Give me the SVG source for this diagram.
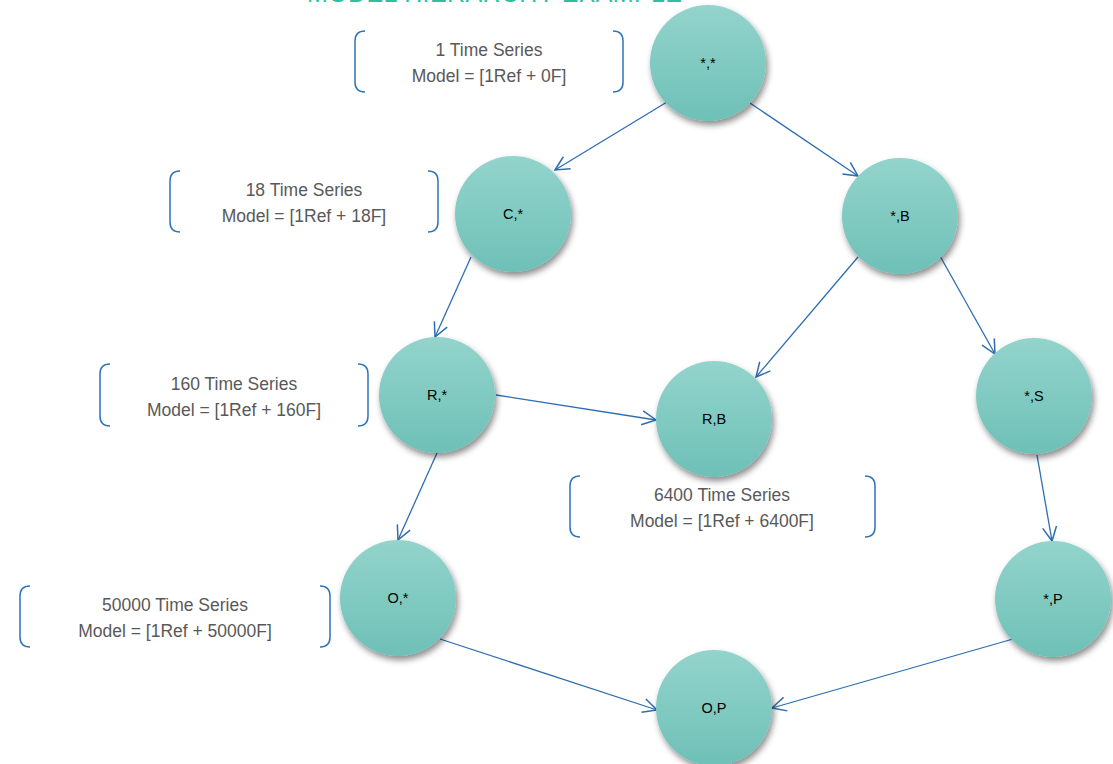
<svg xmlns="http://www.w3.org/2000/svg" width="1113" height="764" viewBox="0 0 1113 764">
<style>
.node circle{fill:url(#g);filter:url(#sh)}
.node text{font-family:"Liberation Sans",Arial,sans-serif;font-size:14.5px;fill:#000;text-anchor:middle}
.note text{font-family:"Liberation Sans",Arial,sans-serif;font-size:17.5px;fill:#595959;text-anchor:middle}
.note path{fill:none;stroke:#2e75b6;stroke-width:1.5}
.edges line{stroke:#2e6db0;stroke-width:1.3;marker-end:url(#arr)}
.title{font-family:"Liberation Sans",Arial,sans-serif;font-size:25px;fill:#2cc0a0}
</style>
<defs>
<linearGradient id="g" x1="0" y1="0" x2="0" y2="1">
<stop offset="0" stop-color="#93d4cc"/>
<stop offset="1" stop-color="#6ec0b7"/>
</linearGradient>
<filter id="sh" x="-30%" y="-30%" width="160%" height="170%">
<feDropShadow dx="2" dy="4" stdDeviation="3" flood-color="#000" flood-opacity="0.45"/>
</filter>
<marker id="arr" viewBox="0 0 20 20" refX="19" refY="10" markerWidth="20" markerHeight="20" markerUnits="userSpaceOnUse" orient="auto">
<path d="M5,3 L19,10 L5,17" fill="none" stroke="#2e6db0" stroke-width="1.5"/>
</marker>
</defs>
<rect width="1113" height="764" fill="#fff"/>
<text class="title" x="307" y="1.5" textLength="375">MODEL HIERARCHY EXAMPLE</text>

<g id="connectors" class="edges">
<line x1="667" y1="102" x2="555" y2="170"/>
<line x1="750" y1="103" x2="858" y2="176"/>
<line x1="471" y1="257" x2="435" y2="337"/>
<line x1="858" y1="257" x2="756" y2="377"/>
<line x1="940" y1="256" x2="995" y2="354"/>
<line x1="496" y1="395" x2="656" y2="420"/>
<line x1="437" y1="453" x2="398" y2="540"/>
<line x1="1037" y1="455" x2="1052" y2="541"/>
<line x1="440" y1="639" x2="657" y2="710"/>
<line x1="1013" y1="639" x2="772" y2="708"/>
</g>

<g id="node-star-star" class="node"><circle cx="708" cy="63" r="58"/><text x="708" y="68">*,*</text></g>
<g id="node-C-star" class="node"><circle cx="513" cy="214" r="58"/><text x="513" y="219">C,*</text></g>
<g id="node-star-B" class="node"><circle cx="900" cy="216" r="58"/><text x="900" y="221">*,B</text></g>
<g id="node-R-star" class="node"><circle cx="437" cy="395" r="58"/><text x="437" y="400">R,*</text></g>
<g id="node-R-B" class="node"><circle cx="714" cy="419" r="58"/><text x="714" y="424">R,B</text></g>
<g id="node-star-S" class="node"><circle cx="1034" cy="396" r="58"/><text x="1034" y="401">*,S</text></g>
<g id="node-O-star" class="node"><circle cx="398" cy="598" r="58"/><text x="398" y="603">O,*</text></g>
<g id="node-star-P" class="node"><circle cx="1053" cy="599" r="58"/><text x="1053" y="604">*,P</text></g>
<g id="node-O-P" class="node"><circle cx="714" cy="708" r="58"/><text x="714" y="713">O,P</text></g>

<g id="note-1" class="note">
<path d="M365,31 Q355,31 355,41 L355,82 Q355,92 365,92"/>
<path d="M613,31 Q623,31 623,41 L623,82 Q623,92 613,92"/>
<text x="489" y="56">1 Time Series</text>
<text x="489" y="82">Model = [1Ref + 0F]</text>
</g>
<g id="note-18" class="note">
<path d="M180,171 Q170,171 170,181 L170,222 Q170,232 180,232"/>
<path d="M428,171 Q438,171 438,181 L438,222 Q438,232 428,232"/>
<text x="304" y="196">18 Time Series</text>
<text x="304" y="222">Model = [1Ref + 18F]</text>
</g>
<g id="note-160" class="note">
<path d="M110,364 Q100,364 100,374 L100,416 Q100,426 110,426"/>
<path d="M358,364 Q368,364 368,374 L368,416 Q368,426 358,426"/>
<text x="234" y="390">160 Time Series</text>
<text x="234" y="416">Model = [1Ref + 160F]</text>
</g>
<g id="note-6400" class="note">
<path d="M580,476 Q570,476 570,486 L570,527 Q570,537 580,537"/>
<path d="M865,476 Q875,476 875,486 L875,527 Q875,537 865,537"/>
<text x="722" y="501">6400 Time Series</text>
<text x="722" y="527">Model = [1Ref + 6400F]</text>
</g>
<g id="note-50000" class="note">
<path d="M30,586 Q20,586 20,596 L20,637 Q20,647 30,647"/>
<path d="M320,586 Q330,586 330,596 L330,637 Q330,647 320,647"/>
<text x="175" y="611">50000 Time Series</text>
<text x="175" y="637">Model = [1Ref + 50000F]</text>
</g>
</svg>
